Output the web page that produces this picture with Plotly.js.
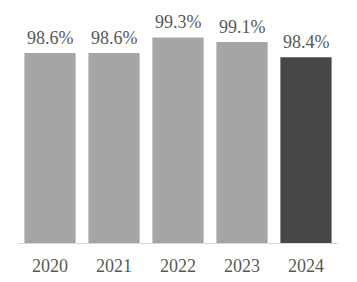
<!DOCTYPE html>
<html><head><meta charset="utf-8">
<script src="https://cdn.plot.ly/plotly-3.0.1.min.js"></script>
<style>html,body{margin:0;padding:0;background:#fff;}#chart{width:357px;height:282px;}</style>
</head><body><div id="chart"></div>
<script>
const years = ["2020", "2021", "2022", "2023", "2024"];
const rates = [98.6, 98.6, 99.3, 99.1, 98.4];
const labels = ["98.6%", "98.6%", "99.3%", "99.1%", "98.4%"];
const barColors = ["#A5A5A5", "#A5A5A5", "#A5A5A5", "#A5A5A5", "#474747"];
const serif = "Liberation Serif";

Plotly.newPlot("chart", [{
  type: "bar",
  x: years,
  y: rates,
  marker: {color: barColors},
  hoverinfo: "none"
}], {
  width: 357, height: 282,
  margin: {l: 18, r: 19, t: 22, b: 39},
  paper_bgcolor: "#fff", plot_bgcolor: "#fff",
  bargap: 0.2,
  showlegend: false,
  xaxis: {
    type: "category",
    showline: true, linecolor: "#D9D9D9", linewidth: 1,
    ticks: "outside", ticklen: 6, tickcolor: "rgba(0,0,0,0)", showgrid: false,
    tickfont: {family: serif, size: 18, color: "#595959"}
  },
  yaxis: {
    range: [90, 100], visible: false, showgrid: false, zeroline: false
  },
  annotations: years.map((yr, i) => ({
    x: i, y: rates[i], xref: "x", yref: "y",
    text: labels[i], showarrow: false,
    yanchor: "bottom", yshift: 3,
    font: {family: serif, size: 18, color: "#595959"}
  }))
}, {displayModeBar: false, staticPlot: true});
</script></body></html>
